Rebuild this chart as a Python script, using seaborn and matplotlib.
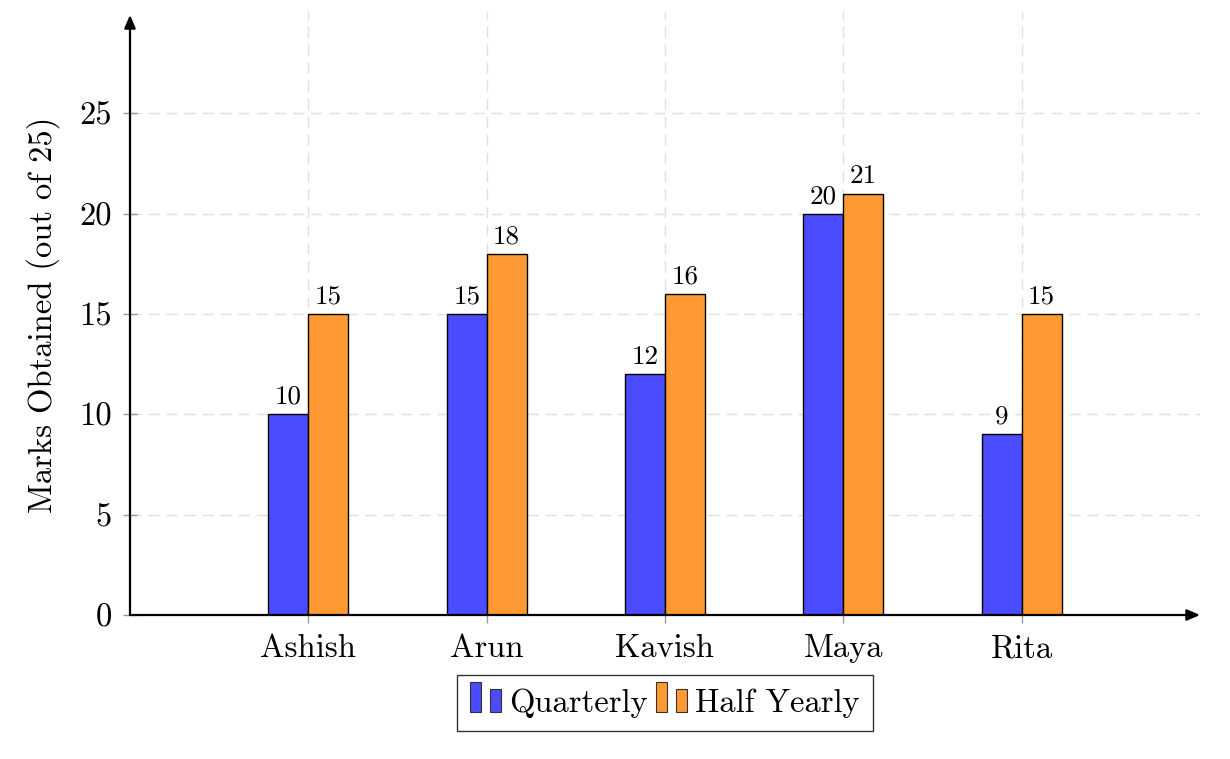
import matplotlib
matplotlib.use("Agg")
import matplotlib.pyplot as plt
from matplotlib.legend_handler import HandlerBase
from matplotlib.patches import Rectangle, Patch
import seaborn as sns
import pandas as pd

students = ["Ashish", "Arun", "Kavish", "Maya", "Rita"]
quarterly = [10, 15, 12, 20, 9]
half_yearly = [15, 18, 16, 21, 15]
series_names = ["Quarterly", "Half Yearly"]
y_ticks = [0, 5, 10, 15, 20, 25]

BLUE = "#4B4BFF"
ORANGE = "#FF9933"

sns.set_theme(style="white")
plt.rcParams["font.family"] = ["cmr10", "DejaVu Serif"]
plt.rcParams["axes.formatter.use_mathtext"] = True
plt.rcParams["mathtext.fontset"] = "cm"
plt.rcParams["text.color"] = "black"
plt.rcParams["axes.labelcolor"] = "black"
plt.rcParams["xtick.labelcolor"] = "black"
plt.rcParams["ytick.labelcolor"] = "black"

df = pd.DataFrame({
    "Student": students * 2,
    "Marks": quarterly + half_yearly,
    "Exam": [series_names[0]] * len(students) + [series_names[1]] * len(students),
})

fig = plt.figure(figsize=(12.3, 7.59), dpi=100)
ax = fig.add_axes([130 / 1230, 1 - 615 / 759, 1070 / 1230, 600 / 759])

sns.barplot(data=df, x="Student", y="Marks", hue="Exam", order=students,
            hue_order=series_names, palette=[BLUE, ORANGE], width=0.447,
            edgecolor="black", linewidth=1.0, saturation=1, ax=ax,
            legend=False, errorbar=None, zorder=3)

for cont in ax.containers:
    ax.bar_label(cont, padding=4, fontsize=19.5, color="black", zorder=4)

ax.set_xlim(-1, 5)
ax.set_ylim(0, 29.9)
ax.set_yticks(y_ticks)
ax.set_yticklabels([str(t) for t in y_ticks])
ax.set_xlabel("")
ax.set_ylabel("Marks Obtained (out of 25)", fontsize=23.5, labelpad=14, color="black")

ax.tick_params(axis="both", labelsize=23.5, labelcolor="black")
ax.tick_params(axis="y", direction="inout", length=10, width=1.0, color="#9a9a9a", pad=8, left=True)
ax.tick_params(axis="x", direction="out", length=6, width=1.0, color="#9a9a9a", pad=8, bottom=True)

for s in ax.spines.values():
    s.set_visible(False)

grid_kw = dict(color="#e0e0e0", linewidth=1.0, dashes=(8, 5), zorder=0)
for t in y_ticks[1:]:
    ax.axhline(t, **grid_kw)
for i in range(len(students)):
    ax.axvline(i, ymax=1.005, clip_on=False, **grid_kw)

# axis arrows
arrow_kw = dict(arrowstyle="-|>,head_length=0.65,head_width=0.28",
                color="black", lw=1.6, shrinkA=0, shrinkB=0)
ax.annotate("", xy=(1.0, 0), xytext=(0, 0), xycoords="axes fraction",
            arrowprops=arrow_kw, zorder=5)
ax.annotate("", xy=(0, 1.0), xytext=(0, 0), xycoords="axes fraction",
            arrowprops=arrow_kw, zorder=5)


class TwoBarHandler(HandlerBase):
    def create_artists(self, legend, orig_handle, xdescent, ydescent,
                       width, height, fontsize, trans):
        fc = orig_handle.get_facecolor()
        x0 = -xdescent
        y0 = -ydescent
        bw = width * 0.36
        r1 = Rectangle((x0, y0), bw, height * 1.3, facecolor=fc,
                       edgecolor="#333333", linewidth=0.8, transform=trans)
        r2 = Rectangle((x0 + width - bw, y0), bw, height * 1.0, facecolor=fc,
                       edgecolor="#333333", linewidth=0.8, transform=trans)
        return [r1, r2]


handles = [Patch(facecolor=BLUE), Patch(facecolor=ORANGE)]
leg = ax.legend(handles, series_names, loc="upper center",
                bbox_to_anchor=(0.5, -0.1), ncol=2, fontsize=23.5,
                handler_map={Patch: TwoBarHandler()}, handlelength=0.95,
                handleheight=0.7, handletextpad=0.25, columnspacing=0.25,
                borderpad=0.4, frameon=True, fancybox=False, borderaxespad=0)
leg.get_frame().set_edgecolor("black")
leg.get_frame().set_linewidth(1.0)

fig.savefig("out.png", dpi=100, facecolor="white")
